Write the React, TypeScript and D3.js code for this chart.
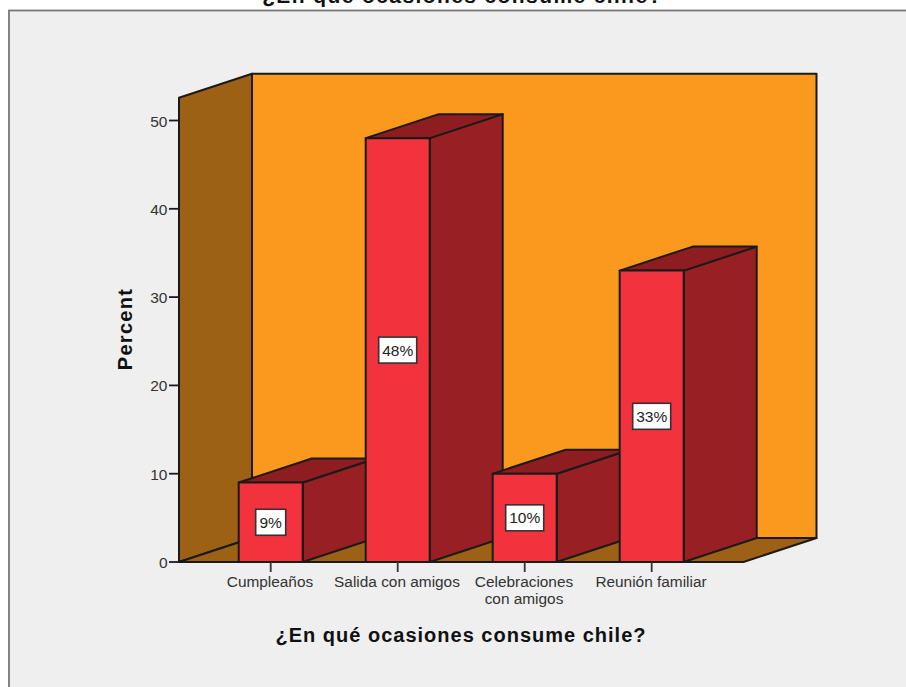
import React from "react";
import * as d3 from "d3";

const categories = ["Cumpleaños", "Salida con amigos", "Celebraciones|con amigos", "Reunión familiar"];
const percents = [9, 48, 10, 33];
const valueTicks = [0, 10, 20, 30, 40, 50];
const axisTop = 52.58;

const chartTitle = "¿En qué ocasiones consume chile?";
const valueAxisTitle = "Percent";

const W = 906;
const H = 687;
const DX = 73;
const DY = -24;
const FONT = "'Liberation Sans', Arial, sans-serif";
const INK = "#1c1a18";

const y = d3.scaleLinear().domain([0, 50]).range([562, 120.5]);
const x = d3
  .scaleBand<string>()
  .domain(categories)
  .range([207.2, 715.2])
  .paddingInner(0.496)
  .paddingOuter(0.248);

const poly = (pts: [number, number][]) => {
  const p = d3.path();
  pts.forEach(([a, b], i) => (i ? p.lineTo(a, b) : p.moveTo(a, b)));
  p.closePath();
  return p.toString();
};

// Width of the white value tag, by digit count
const tagWidth = (v: number) => (v < 10 ? 30 : 38);

export default function App() {
  const x0 = 179;
  const x1 = 743.5;
  const y0 = y(0);
  const yT = y(axisTop);
  const bw = x.bandwidth();

  return (
    <svg
      width={W}
      height={H}
      viewBox={`0 0 ${W} ${H}`}
      style={{ position: "absolute", left: 0, top: 0, display: "block", fontFamily: FONT }}
    >
      <rect width={W} height={H} fill="#ffffff" />
      <rect x={9} y={10.5} width={W} height={H} fill="#efefef" stroke="#777" strokeWidth={1.8} />
      <text
        x={462.5}
        y={3}
        textAnchor="middle"
        fontSize={21}
        fontWeight="bold"
        letterSpacing={1.4}
        fill="#111"
      >
        {chartTitle}
      </text>

      {/* Box walls and floor */}
      <g stroke={INK} strokeWidth={2} strokeLinejoin="round">
        <path d={poly([[x0 + DX, yT + DY], [x1 + DX, yT + DY], [x1 + DX, y0 + DY], [x0 + DX, y0 + DY]])} fill="#fb991e" />
        <path d={poly([[x0, yT], [x0 + DX, yT + DY], [x0 + DX, y0 + DY], [x0, y0]])} fill="#9c6114" />
        <path d={poly([[x0, y0], [x0 + DX, y0 + DY], [x1 + DX, y0 + DY], [x1, y0]])} fill="#9c6114" />
      </g>

      {/* Bars, drawn left to right so nearer faces overlap */}
      <g stroke={INK} strokeWidth={2} strokeLinejoin="round">
        {categories.map((c, i) => {
          const l = x(c)!;
          const r = l + bw;
          const t = y(percents[i]);
          return (
            <g key={c}>
              <path d={poly([[r, t], [r + DX, t + DY], [r + DX, y0 + DY], [r, y0]])} fill="#982024" />
              <path d={poly([[l, t], [l + DX, t + DY], [r + DX, t + DY], [r, t]])} fill="#8e1d22" />
              <path d={poly([[l, t], [r, t], [r, y0], [l, y0]])} fill="#f2333d" />
            </g>
          );
        })}
      </g>

      {/* Value tags */}
      {categories.map((c, i) => {
        const cx = x(c)! + bw / 2;
        const cy = y(percents[i] / 2);
        const w = tagWidth(percents[i]);
        return (
          <g key={c}>
            <rect x={cx - w / 2} y={cy - 13} width={w} height={26} fill="#fff" stroke="#333" strokeWidth={1.6} />
            <text x={cx} y={cy + 5.5} textAnchor="middle" fontSize={15.5} fill="#222">
              {percents[i]}%
            </text>
          </g>
        );
      })}

      {/* Value axis */}
      <line x1={x0} x2={x1} y1={y0} y2={y0} stroke={INK} strokeWidth={2} />
      {valueTicks.map((v) => (
        <g key={v}>
          <line x1={169} x2={x0} y1={y(v)} y2={y(v)} stroke={INK} strokeWidth={1.8} />
          <text x={167.5} y={y(v) + 6} textAnchor="end" fontSize={15.5} fill="#333">
            {v}
          </text>
        </g>
      ))}
      <text
        transform="translate(132,329) rotate(-90)"
        textAnchor="middle"
        fontSize={20}
        fontWeight="bold"
        letterSpacing={1.3}
        fill="#111"
      >
        {valueAxisTitle}
      </text>

      {/* Category axis */}
      {categories.map((c) => {
        const cx = x(c)! + bw / 2;
        return (
          <g key={c}>
            <line x1={cx} x2={cx} y1={y0} y2={572} stroke="#333" strokeWidth={1.8} />
            {c.split("|").map((ln, k) => (
              <text key={ln} x={cx - 0.7} y={587 + k * 16.5} textAnchor="middle" fontSize={15.4} fill="#333">
                {ln}
              </text>
            ))}
          </g>
        );
      })}
      <text
        x={461}
        y={642}
        textAnchor="middle"
        fontSize={20}
        fontWeight="bold"
        letterSpacing={1}
        fill="#111"
      >
        {chartTitle}
      </text>
    </svg>
  );
}
